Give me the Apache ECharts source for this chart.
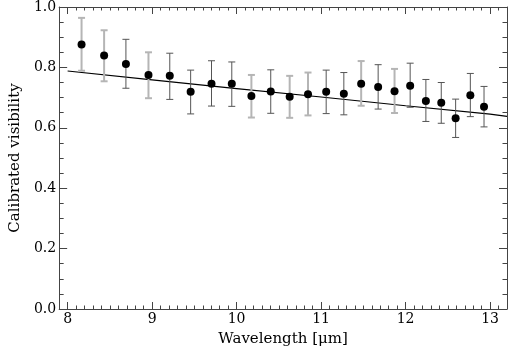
<!DOCTYPE html>
<html>
<head>
<meta charset="UTF-8">
<title>Calibrated visibility</title>
<style>
  html, body { margin: 0; padding: 0; background: #fff; }
  #main { width: 510px; height: 352px; }
</style>
</head>
<body>
<div id="main"></div>
<script src="https://cdn.jsdelivr.net/npm/echarts@6/dist/echarts.min.js"></script>
<script>
// measured points (wavelength in micron)
var wavelength = [8.165, 8.432, 8.690, 8.957, 9.209, 9.456, 9.703, 9.943, 10.175, 10.404, 10.628, 10.845,
                  11.060, 11.269, 11.474, 11.675, 11.869, 12.054, 12.240, 12.422, 12.592, 12.766, 12.928];
var visibility = [0.876, 0.839, 0.811, 0.775, 0.772, 0.719, 0.746, 0.746, 0.705, 0.720, 0.703, 0.711,
                  0.719, 0.713, 0.746, 0.735, 0.721, 0.739, 0.689, 0.683, 0.632, 0.708, 0.670];
var errHigh = [0.964, 0.923, 0.893, 0.850, 0.847, 0.791, 0.822, 0.818, 0.775, 0.792, 0.772, 0.783,
               0.791, 0.783, 0.821, 0.809, 0.795, 0.814, 0.760, 0.750, 0.695, 0.780, 0.737];
var errLow = [0.789, 0.754, 0.731, 0.698, 0.694, 0.646, 0.672, 0.671, 0.634, 0.648, 0.633, 0.641,
              0.647, 0.643, 0.673, 0.662, 0.649, 0.668, 0.621, 0.615, 0.568, 0.637, 0.603];
// which set each error bar belongs to (A = light, B = dark)
var obsSet = ['A', 'A', 'B', 'A', 'B', 'B', 'B', 'B', 'A', 'B', 'A', 'A',
              'B', 'B', 'A', 'B', 'A', 'B', 'B', 'B', 'B', 'B', 'B'];

// model curve
var modelX = [8.0, 9.0, 10.0, 11.0, 12.0, 13.0, 13.2];
var modelY = [0.788, 0.759, 0.730, 0.702, 0.673, 0.645, 0.638];

var font = 'DejaVu Serif';
var axisCol = '#444';

var points = wavelength.map(function (w, i) { return [w, visibility[i]]; });
var bars = wavelength.map(function (w, i) { return [w, errLow[i], errHigh[i], obsSet[i]]; });
var model = modelX.map(function (w, i) { return [w, modelY[i]]; });

function xAxisCfg(pos, showLabel) {
    return {
        type: 'value', position: pos, min: 7.9, max: 13.2,
        axisLine: { show: true, onZero: false, lineStyle: { color: axisCol, width: 1 } },
        axisTick: { show: true, inside: true, length: 7, lineStyle: { color: axisCol } },
        minorTick: { show: true, splitNumber: 10, length: 3.5, lineStyle: { color: axisCol } },
        splitLine: { show: false },
        axisLabel: {
            show: showLabel, margin: 3, color: '#000', fontFamily: font, fontSize: 14,
            formatter: function (v) { return Math.abs(v - Math.round(v)) < 1e-6 ? String(Math.round(v)) : ''; }
        }
    };
}
function yAxisCfg(pos, showLabel) {
    return {
        type: 'value', position: pos, min: 0, max: 1, interval: 0.2,
        axisLine: { show: true, onZero: false, lineStyle: { color: axisCol, width: 1 } },
        axisTick: { show: true, inside: true, length: 8, lineStyle: { color: axisCol } },
        minorTick: { show: true, splitNumber: 4, length: 4.5, lineStyle: { color: axisCol } },
        splitLine: { show: false },
        axisLabel: {
            show: showLabel, margin: 3, color: '#000', fontFamily: font, fontSize: 14,
            formatter: function (v) { return v.toFixed(1); }
        }
    };
}

var xb = xAxisCfg('bottom', true);
xb.name = 'Wavelength [\u03bcm]';
xb.nameLocation = 'middle';
xb.nameGap = 23;
xb.nameTextStyle = { color: '#000', fontFamily: font, fontSize: 15 };
var yl = yAxisCfg('left', true);
yl.name = 'Calibrated visibility';
yl.nameLocation = 'middle';
yl.nameGap = 32;
yl.nameTextStyle = { color: '#000', fontFamily: font, fontSize: 15 };

var myChart = echarts.init(document.getElementById('main'), null, { renderer: 'canvas' });
var option = {
    animation: false,
    backgroundColor: '#fff',
    grid: { left: 53, right: 1, top: 3, bottom: 42, containLabel: false },
    xAxis: [xb, xAxisCfg('top', false)],
    yAxis: [yl, yAxisCfg('right', false)],
    series: [
        {
            type: 'line', data: model, showSymbol: false, symbol: 'none',
            lineStyle: { color: '#000', width: 1.2 }, z: 2
        },
        {
            type: 'custom', data: bars, z: 3,
            renderItem: function (params, api) {
                var x = api.value(0);
                var lo = api.coord([x, api.value(1)]);
                var hi = api.coord([x, api.value(2)]);
                var light = bars[params.dataIndex][3] === 'A';
                var st = { stroke: light ? '#b5b5b5' : '#555', lineWidth: light ? 2 : 1 };
                var cw = 3.5;
                return {
                    type: 'group',
                    children: [
                        { type: 'line', shape: { x1: hi[0], y1: hi[1], x2: lo[0], y2: lo[1] }, style: st },
                        { type: 'line', shape: { x1: hi[0] - cw, y1: hi[1], x2: hi[0] + cw, y2: hi[1] }, style: st },
                        { type: 'line', shape: { x1: lo[0] - cw, y1: lo[1], x2: lo[0] + cw, y2: lo[1] }, style: st }
                    ]
                };
            }
        },
        {
            type: 'scatter', data: points, symbol: 'circle', symbolSize: 8,
            itemStyle: { color: '#000', opacity: 1 }, z: 4
        }
    ]
};
myChart.setOption(option);
</script>
</body>
</html>
